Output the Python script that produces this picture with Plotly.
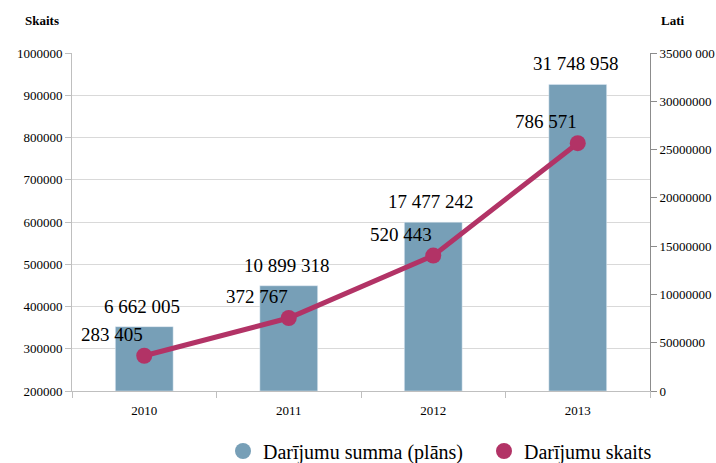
import plotly.graph_objects as go

years = ["2010", "2011", "2012", "2013"]
summa = [6662005, 10899318, 17477242, 31748958]
skaits = [283405, 372767, 520443, 786571]
left_ticks = [200000, 300000, 400000, 500000, 600000, 700000, 800000, 900000, 1000000]
right_ticks = [0, 5000000, 10000000, 15000000, 20000000, 25000000, 30000000, 35000000]
right_ticktext = ["0", "5000000", "10000000", "15000000", "20000000", "25000000", "30000000", "35000 000"]
legend_names = ["Darījumu summa (plāns)", "Darījumu skaits"]

BAR = "#779fb7"
LINE = "#b23366"
FONT = "Liberation Serif"

W, H = 716, 463
L, R, T, B = 72, 66, 53, 72
pw, ph = W - L - R, H - T - B
def px(x): return (x - L) / pw
def py(y): return (H - B - y) / ph

def fmt(v):
    return f"{v:,}".replace(",", " ")

fig = go.Figure()
# bars on the right-hand "Lati" axis (base axis y)
fig.add_trace(go.Bar(x=years, y=summa, yaxis="y", marker_color=BAR, width=0.4,
                     showlegend=False, hoverinfo="skip"))
# line on the left-hand "Skaits" axis (overlay y2, drawn on top)
fig.add_trace(go.Scatter(x=years, y=skaits, yaxis="y2", mode="lines+markers",
                         line=dict(color=LINE, width=5), marker=dict(size=16, color=LINE),
                         showlegend=False))
# legend-only markers
fig.add_trace(go.Scatter(x=[years[0]], y=[None], yaxis="y2", mode="markers", name=legend_names[0],
                         marker=dict(size=17, color=BAR, symbol="circle"), legend="legend"))
fig.add_trace(go.Scatter(x=[years[0]], y=[None], yaxis="y2", mode="markers", name=legend_names[1],
                         marker=dict(size=17, color=LINE, symbol="circle"), legend="legend2"))

ann = []
for i, v in enumerate(summa):
    ann.append(dict(x=i, y=v, xref="x", yref="y", text=fmt(v), showarrow=False,
                    yanchor="bottom", xanchor="center", yshift=8, xshift=-2,
                    font=dict(family=FONT, size=19, color="#000")))
for i, v in enumerate(skaits):
    ann.append(dict(x=i, y=v, xref="x", yref="y2", text=fmt(v), showarrow=False,
                    yanchor="bottom", xanchor="center", yshift=9, xshift=-32,
                    font=dict(family=FONT, size=19, color="#000")))
ann.append(dict(x=px(61), y=py(21), xref="paper", yref="paper", text="<b>Skaits</b>",
                xanchor="right", yanchor="middle",
                showarrow=False, font=dict(family=FONT, size=13, color="#000")))
ann.append(dict(x=px(659), y=py(21), xref="paper", yref="paper", text="<b>Lati</b>",
                xanchor="left", yanchor="middle",
                showarrow=False, font=dict(family=FONT, size=13, color="#000")))

legend_common = dict(orientation="h", yanchor="middle", y=py(451),
                     font=dict(family=FONT, size=20, color="#000"), itemsizing="trace",
                     bgcolor="rgba(0,0,0,0)", xanchor="left")

fig.update_layout(
    annotations=ann,
    width=W, height=H,
    margin=dict(l=L, r=R, t=T, b=B, pad=0, autoexpand=False),
    paper_bgcolor="white", plot_bgcolor="white",
    font=dict(family=FONT, size=13, color="#000"),
    xaxis=dict(type="category", categoryorder="array", categoryarray=years, range=[-0.5, 3.5],
               showgrid=False, showline=True, linecolor="#bfbfbf", linewidth=1,
               ticks="outside", tickson="boundaries", ticklen=6, tickcolor="#bfbfbf",
               tickfont=dict(family=FONT, size=13), tickangle=0, automargin=False,
               ticklabelstandoff=7),
    yaxis=dict(range=[0, 35000000], side="right", tickvals=right_ticks,
               ticktext=right_ticktext, showgrid=False, showline=True, linecolor="#8c8c8c",
               ticks="outside", ticklen=6, tickcolor="#8c8c8c", zeroline=False,
               tickfont=dict(family=FONT, size=13), automargin=False),
    yaxis2=dict(range=[200000, 1000000], overlaying="y", side="left", tickvals=left_ticks,
                ticktext=[str(t) for t in left_ticks],
                showgrid=True, gridcolor="#d9d9d9", gridwidth=1, showline=True, linecolor="#bfbfbf",
                ticks="outside", ticklen=6, tickcolor="#bfbfbf", zeroline=False,
                tickfont=dict(family=FONT, size=13), automargin=False),
    legend=dict(legend_common, x=px(223)),
    legend2=dict(legend_common, x=px(484)),
)
fig.write_html("out.html", config={"displayModeBar": False},
               post_script="document.body.style.margin='0';")
